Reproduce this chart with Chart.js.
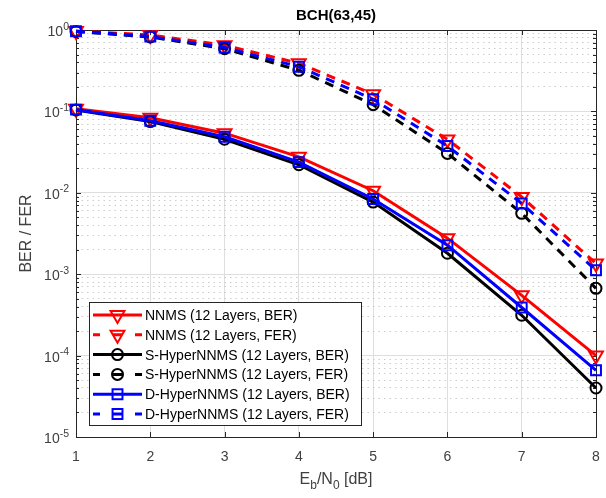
<!DOCTYPE html>
<html><head><meta charset="utf-8">
<script src="https://cdn.jsdelivr.net/npm/chart.js@4.4.1/dist/chart.umd.min.js"></script>
<style>html,body{margin:0;padding:0;background:#fff;}#wrap{width:606px;height:498px;position:relative;}</style>
</head><body><div id="wrap"><canvas id="c" width="606" height="498"></canvas></div>
<script>
// ---- data ----
const ebn0 = [1, 2, 3, 4, 5, 6, 7, 8];
const nnmsBER   = [0.108, 0.0835, 0.054, 0.0277, 0.0106, 0.00277, 0.00055, 0.000100];
const nnmsFER   = [0.97, 0.87, 0.65, 0.39, 0.163, 0.0453, 0.0089, 0.00135];
const sHyperBER = [0.104, 0.0750, 0.0455, 0.0221, 0.0077, 0.00181, 0.000313, 0.000040];
const sHyperFER = [0.96, 0.82, 0.59, 0.32, 0.121, 0.0305, 0.0056, 0.00067];
const dHyperBER = [0.105, 0.0767, 0.0488, 0.0238, 0.0084, 0.00227, 0.00039, 0.000066];
const dHyperFER = [0.965, 0.83, 0.61, 0.354, 0.141, 0.0375, 0.0074, 0.00112];
const xTickLabels = ['1', '2', '3', '4', '5', '6', '7', '8'];
const yTickExponents = [0, -1, -2, -3, -4, -5];
const seriesLabels = [
  'NNMS (12 Layers, BER)', 'NNMS (12 Layers, FER)',
  'S-HyperNNMS (12 Layers, BER)', 'S-HyperNNMS (12 Layers, FER)',
  'D-HyperNNMS (12 Layers, BER)', 'D-HyperNNMS (12 Layers, FER)'
];
const titleText = 'BCH(63,45)';
const yLabelText = 'BER / FER';

// ---- styles ----
const RED = '#ff0000', BLACK = '#000000', BLUE = '#0000ff';
const DASH = [9, 7];
const styles = [
  {color: RED, dashed: false, shape: 'triangle', r: 8, rot: 180},
  {color: RED, dashed: true, shape: 'triangle', r: 8, rot: 180},
  {color: BLACK, dashed: false, shape: 'circle', r: 5.5, rot: 0},
  {color: BLACK, dashed: true, shape: 'circle', r: 5.5, rot: 0},
  {color: BLUE, dashed: false, shape: 'rect', r: 7, rot: 0},
  {color: BLUE, dashed: true, shape: 'rect', r: 7, rot: 0}
];
const seriesValues = [nnmsBER, nnmsFER, sHyperBER, sHyperFER, dHyperBER, dHyperFER];

const datasets = seriesValues.map((vals, i) => ({
  label: seriesLabels[i],
  data: ebn0.map((x, j) => ({x: x, y: vals[j]})),
  borderColor: styles[i].color,
  backgroundColor: 'rgba(0,0,0,0)',
  borderWidth: 3,
  borderDash: styles[i].dashed ? DASH : [],
  pointStyle: styles[i].shape,
  pointRadius: styles[i].r,
  pointRotation: styles[i].rot,
  pointBorderWidth: 2,
  pointBorderColor: styles[i].color,
  pointBackgroundColor: 'rgba(0,0,0,0)',
  tension: 0,
  fill: false,
  clip: false,
  order: 6 - i
}));

const isMajorLog = v => Math.abs(Math.log10(v) - Math.round(Math.log10(v))) < 1e-9;
const AX = '#262626';
const FONT = '"Liberation Sans", Arial, Helvetica, sans-serif';

const framePlugin = {
  id: 'frame',
  beforeDatasetsDraw(chart) {
    const ctx = chart.ctx, a = chart.chartArea;
    const xs = chart.scales.x, ys = chart.scales.y;
    ctx.save();
    ctx.strokeStyle = AX; ctx.lineWidth = 1;
    ctx.strokeRect(Math.round(a.left) + 0.5, Math.round(a.top) + 0.5,
      Math.round(a.right - a.left), Math.round(a.bottom - a.top));
    ctx.beginPath();
    xs.ticks.forEach(t => {
      const px = Math.round(xs.getPixelForValue(t.value)) + 0.5;
      ctx.moveTo(px, a.bottom); ctx.lineTo(px, a.bottom - 5);
      ctx.moveTo(px, a.top); ctx.lineTo(px, a.top + 5);
    });
    ys.ticks.forEach(t => {
      const py = Math.round(ys.getPixelForValue(t.value)) + 0.5;
      const L = isMajorLog(t.value) ? 5 : 3;
      ctx.moveTo(a.left, py); ctx.lineTo(a.left + L, py);
      ctx.moveTo(a.right, py); ctx.lineTo(a.right - L, py);
    });
    ctx.stroke();
    ctx.restore();
  },
  afterDraw(chart) {
    const ctx = chart.ctx, a = chart.chartArea;
    const xs = chart.scales.x, ys = chart.scales.y;
    ctx.save();
    // x tick labels
    ctx.fillStyle = '#404040';
    ctx.font = '14px ' + FONT;
    ctx.textAlign = 'center'; ctx.textBaseline = 'alphabetic';
    xTickLabels.forEach((lab, i) => {
      ctx.fillText(lab, xs.getPixelForValue(ebn0[i]), a.bottom + 24);
    });
    // y tick labels 10^k
    const rightX = a.left - 7;
    yTickExponents.forEach(e => {
      const py = ys.getPixelForValue(Math.pow(10, e));
      const es = e === 0 ? '0' : '-' + (-e);
      ctx.font = '10.5px ' + FONT;
      const ew = ctx.measureText(es).width;
      ctx.textAlign = 'left';
      ctx.fillText(es, rightX - ew, py - 0.5);
      ctx.font = '14px ' + FONT;
      ctx.textAlign = 'right';
      ctx.fillText('10', rightX - ew, py + 6);
    });
    // x axis label E_b/N_0 [dB]
    const parts = [['E', 16, 0], ['b', 12, 5], ['/N', 16, 0], ['0', 12, 5], [' [dB]', 16, 0]];
    let total = 0;
    parts.forEach(p => { ctx.font = p[1] + 'px ' + FONT; total += ctx.measureText(p[0]).width; });
    let cx = (a.left + a.right) / 2 - total / 2;
    ctx.textAlign = 'left';
    parts.forEach(p => {
      ctx.font = p[1] + 'px ' + FONT;
      ctx.fillText(p[0], cx, 484 + p[2]);
      cx += ctx.measureText(p[0]).width;
    });
    // y label
    ctx.save();
    ctx.translate(31, (a.top + a.bottom) / 2);
    ctx.rotate(-Math.PI / 2);
    ctx.textAlign = 'center';
    ctx.font = '16px ' + FONT;
    ctx.fillText(yLabelText, 0, 0);
    ctx.restore();
    // title
    ctx.fillStyle = '#000';
    ctx.font = 'bold 15px ' + FONT;
    ctx.textAlign = 'center';
    ctx.fillText(titleText, (a.left + a.right) / 2, 20);
    // legend
    const bx = 89.5, by = 302.5, bw = 272, bh = 123;
    ctx.fillStyle = '#fff';
    ctx.fillRect(bx, by, bw, bh);
    ctx.strokeStyle = AX; ctx.lineWidth = 1;
    ctx.strokeRect(bx, by, bw, bh);
    seriesLabels.forEach((lab, i) => {
      const st = styles[i];
      const ry = 315 + i * 19.8;
      ctx.setLineDash([]);
      ctx.strokeStyle = st.color; ctx.lineWidth = 3;
      ctx.beginPath();
      if (st.dashed) {
        ctx.moveTo(93, ry); ctx.lineTo(100, ry);
        ctx.moveTo(113, ry); ctx.lineTo(122, ry);
        ctx.moveTo(135, ry); ctx.lineTo(142, ry);
      } else {
        ctx.moveTo(93, ry); ctx.lineTo(142, ry);
      }
      ctx.stroke();
      ctx.lineWidth = 2;
      ctx.fillStyle = 'rgba(0,0,0,0)';
      ctx.strokeStyle = st.color;
      Chart.helpers.drawPoint(ctx, {pointStyle: st.shape, radius: st.r, rotation: st.rot, borderWidth: 2}, 117.5, ry);
      ctx.fillStyle = '#000';
      ctx.font = '14px ' + FONT;
      ctx.textAlign = 'left';
      ctx.fillText(lab, 145, ry + 5);
    });
    ctx.restore();
  }
};

new Chart(document.getElementById('c'), {
  type: 'line',
  data: {datasets},
  options: {
    responsive: false,
    devicePixelRatio: 1,
    animation: false,
    layout: {padding: {left: 76, top: 30, right: 10, bottom: 61}},
    plugins: {legend: {display: false}, title: {display: false}, tooltip: {enabled: false}},
    scales: {
      x: {
        type: 'linear', min: 1, max: 8,
        ticks: {stepSize: 1, display: false},
        grid: {color: '#dedede', lineWidth: 1, drawTicks: false},
        border: {display: false},
        afterFit: s => { s.height = 0; }
      },
      y: {
        type: 'logarithmic', min: 1e-5, max: 1,
        ticks: {display: false},
        afterBuildTicks: s => {
          const t = [];
          for (let e = -5; e <= 0; e++) {
            for (let m = 1; m <= 9; m++) {
              const v = m * Math.pow(10, e);
              if (v <= 1.0000001) t.push({value: e === 0 ? 1 : v});
            }
          }
          s.ticks = t;
        },
        grid: {
          color: ctx => (ctx.tick && isMajorLog(ctx.tick.value)) ? '#dedede' : '#cccccc',
          lineWidth: 1, drawTicks: false
        },
        border: {display: false, dash: ctx => (ctx.tick && isMajorLog(ctx.tick.value)) ? [] : [1.5, 4]},
        afterFit: s => { s.width = 0; }
      }
    }
  },
  plugins: [framePlugin]
});
</script></body></html>
